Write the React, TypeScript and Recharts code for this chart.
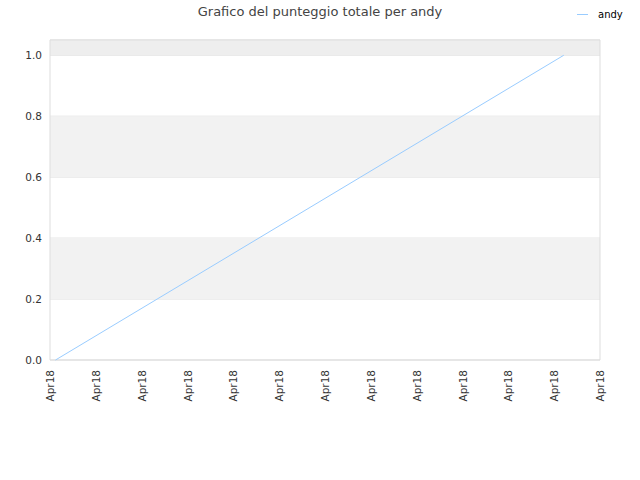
import {
  LineChart,
  Line,
  XAxis,
  YAxis,
  CartesianGrid,
  ReferenceArea
} from 'recharts';

const seriesName = 'andy';
const xValues = [0.12, 11.21];
const scores = [0, 1];
const xTicks = [0, 1, 2, 3, 4, 5, 6, 7, 8, 9, 10, 11, 12];
const xTickLabel = 'Apr18';
const yTicks = [0, 0.2, 0.4, 0.6, 0.8, 1.0];

const data = xValues.map((x, i) => ({ x, score: scores[i] }));

const font = '"DejaVu Sans", Verdana, sans-serif';

function XTick(props: any) {
  const { x, y } = props;
  return (
    <text
      x={x}
      y={y + 2}
      transform={`rotate(-90, ${x}, ${y + 2})`}
      textAnchor="end"
      dominantBaseline="central"
      fontSize={10.5}
      fill="#333"
      fontFamily={font}
    >
      {xTickLabel}
    </text>
  );
}

export default function App() {
  return (
    <div style={{ position: 'absolute', left: 0, top: 0, width: 640, height: 480, background: '#fff' }}>
      <div
        style={{
          position: 'absolute',
          top: 4,
          left: 0,
          width: 640,
          textAlign: 'center',
          fontFamily: font,
          fontSize: 13,
          color: '#444'
        }}
      >
        Grafico del punteggio totale per andy
      </div>
      <div
        style={{
          position: 'absolute',
          top: 9,
          left: 577,
          display: 'flex',
          alignItems: 'center',
          fontFamily: font,
          fontSize: 10,
          color: '#000'
        }}
      >
        <span style={{ display: 'inline-block', width: 11, height: 1, background: '#99ccff', marginRight: 10 }} />
        {seriesName}
      </div>
      <LineChart width={640} height={480} data={data} margin={{ top: 40, right: 40, left: 0, bottom: 0 }}>
        <ReferenceArea y1={1.0} y2={1.05} fill="#eeeeee" fillOpacity={1} stroke="none" />
        <ReferenceArea y1={0.6} y2={0.8} fill="#f2f2f2" fillOpacity={1} stroke="none" />
        <ReferenceArea y1={0.2} y2={0.4} fill="#f2f2f2" fillOpacity={1} stroke="none" />
        <CartesianGrid vertical={false} stroke="#e0e0e0" />
        <ReferenceArea
          x1={0}
          x2={12}
          y1={0}
          y2={1.05}
          fill="none"
          stroke="#dddddd"
          strokeWidth={1}
          ifOverflow="visible"
        />
        <XAxis
          dataKey="x"
          type="number"
          domain={[0, 12]}
          ticks={xTicks}
          interval={0}
          height={120}
          axisLine={false}
          tickLine={false}
          tick={<XTick />}
        />
        <YAxis
          type="number"
          domain={[0, 1.05]}
          ticks={yTicks}
          width={50}
          axisLine={false}
          tickLine={false}
          tickFormatter={(v: number) => v.toFixed(1)}
          tick={{ fontSize: 10.5, fill: '#333', fontFamily: font }}
        />
        <Line
          type="linear"
          dataKey="score"
          name={seriesName}
          stroke="#99ccff"
          strokeWidth={1}
          dot={false}
          isAnimationActive={false}
        />
      </LineChart>
    </div>
  );
}
